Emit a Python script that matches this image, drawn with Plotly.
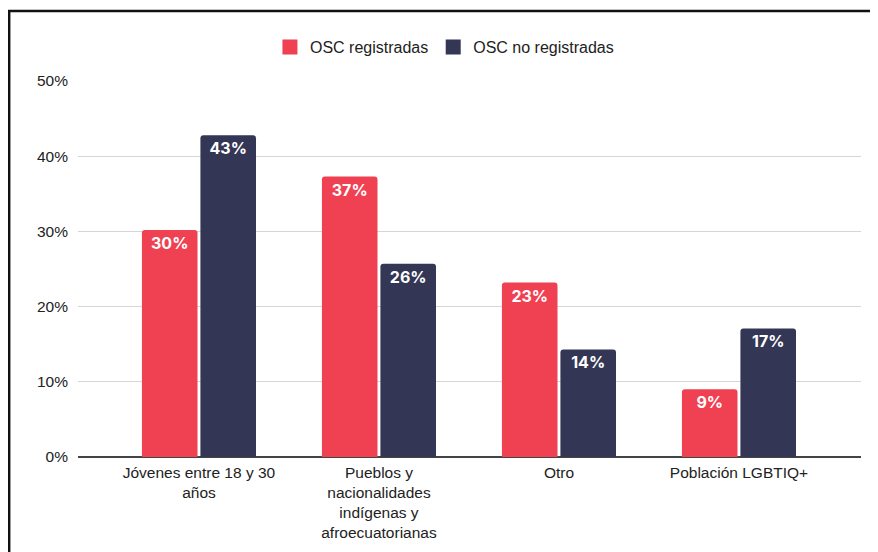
import plotly.graph_objects as go

categories = ["Jóvenes", "Pueblos", "Otro", "LGBTIQ"]
category_labels = [
    "Jóvenes entre 18 y 30<br>años",
    "Pueblos y<br>nacionalidades<br>indígenas y<br>afroecuatorianas",
    "Otro",
    "Población LGBTIQ+",
]
series_names = ["OSC registradas", "OSC no registradas"]
registradas = [30.2, 37.3, 23.2, 9.0]
no_registradas = [42.8, 25.7, 14.3, 17.1]
y_ticks = [0, 10, 20, 30, 40, 50]
y_tick_labels = ["0%", "10%", "20%", "30%", "40%", "50%"]

RED = "#EF4152"
NAVY = "#333654"

fig = go.Figure()
for name, vals, col in [(series_names[0], registradas, RED), (series_names[1], no_registradas, NAVY)]:
    fig.add_trace(go.Bar(
        x=categories, y=vals, name=name, marker=dict(color=col, cornerradius=3, line=dict(width=0)),
        texttemplate="%{y:.0f}%", textposition="inside", insidetextanchor="end",
        constraintext="none",
        textfont=dict(family="Inter", size=16, color="white", weight="bold"),
        showlegend=False, hoverinfo="skip",
    ))
    fig.add_trace(go.Scatter(
        x=[None], y=[None], mode="markers", name=name,
        marker=dict(symbol="square", size=15, color=col), showlegend=True,
    ))

fig.update_layout(
    width=878, height=552,
    margin=dict(l=70, r=25, t=73, b=103),
    paper_bgcolor="white", plot_bgcolor="white",
    barmode="group", bargap=0.35, bargroupgap=0.05,
    font=dict(family="Liberation Sans, Arial", color="#222222"),
    legend=dict(orientation="h", x=0.468, xanchor="center", y=1.09, yanchor="middle",
                font=dict(size=16, color="#222222"), itemsizing="trace",
                bgcolor="rgba(0,0,0,0)"),
    xaxis=dict(type="category", range=[-0.672, 3.678], tickvals=categories, ticktext=category_labels,
               tickfont=dict(size=15.5, color="#222222"), showgrid=False, showline=False,
               ticks="", ticklen=0, ticklabelstandoff=4),
    yaxis=dict(range=[0, 50], tickvals=y_ticks, ticktext=y_tick_labels,
               tickfont=dict(size=15.5, color="#222222"), showgrid=True,
               gridcolor="#D6D6D6", gridwidth=1.3, zeroline=True, zerolinecolor="#444444",
               zerolinewidth=1.6, showline=False, ticks="", ticklabelstandoff=9),
    shapes=[dict(type="rect", xref="paper", yref="paper",
                 x0=-0.0879, x1=1.2, y0=-0.6, y1=1.186,
                 line=dict(color="#111111", width=2.5), fillcolor="rgba(0,0,0,0)", layer="above")],
)

fig.write_html("out.html")
